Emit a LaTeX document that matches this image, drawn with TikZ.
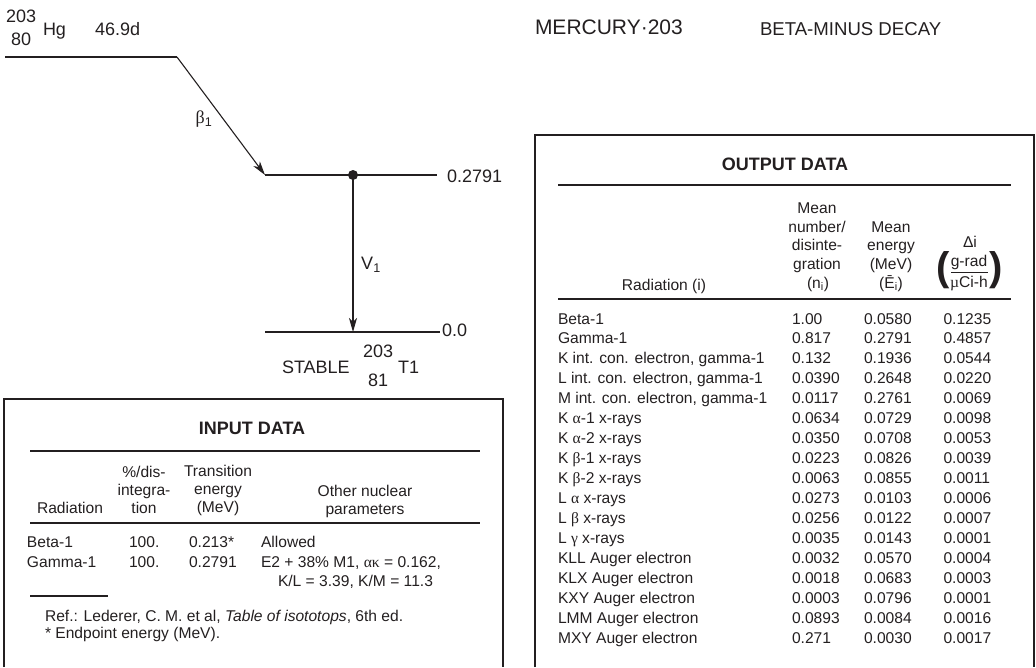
\documentclass[tikz,border=0pt]{standalone}
\usepackage{fontspec}
\setmainfont{Liberation Sans}
\newfontfamily\grk{Liberation Serif}
\usetikzlibrary{arrows.meta}
\definecolor{ink}{RGB}{35,31,32}
\newcommand\fsT{\fontsize{15.6}{18.7}\selectfont}
\newcommand\fsL{\fontsize{18}{20}\selectfont}
\begin{document}
\begin{tikzpicture}[x=1pt,y=-1pt,
  txt/.style={inner sep=0pt,outer sep=0pt,text=ink,font=\fsT},
  lbl/.style={txt,font=\fsL},
  ttl/.style={txt,font=\fsL\bfseries},
  level/.style={draw=ink,line width=1.2pt},
  trans/.style={draw=ink,line width=1.1pt,-{Stealth[length=14pt,width=8pt,inset=4pt]}},
  frame/.style={draw=ink,line width=1.4pt},
  rule/.style={draw=ink,line width=1.3pt},
  hd/.style={txt,anchor=base},
  lw/.style={txt,anchor=base west}]
\useasboundingbox (0,0) rectangle (1036,667);

% ---------------- decay scheme ----------------
\coordinate (p0) at (5,57);
\coordinate (p1) at (177,57);
\coordinate (m0) at (265,175);
\coordinate (m1) at (437,175);
\coordinate (mg) at (353,175);
\coordinate (g0) at (265,332);
\coordinate (g1) at (440,332);
\coordinate (gg) at (353,332);
\draw[level] (p0) -- (p1);
\draw[trans] (p1) -- (m0);
\draw[level] (m0) -- (m1);
\draw[level] (g0) -- (g1);
\draw[trans] (mg) -- (gg);
\fill[ink] (mg) circle (5);

\node[lbl,anchor=base west] (hgA) at (6,22) {203};
\node[lbl,anchor=base west] (hgZ) at (11,45) {80};
\node[lbl,anchor=base west] (hg) at (43,35) {Hg};
\node[lbl,anchor=base west] (hl) at (95,35) {46.9d};
\node[lbl] (b1) at (204,119) {{\grk β}\textsubscript{1}};
\node[lbl] (v1) at (371,265) {V\textsubscript{1}};
\node[lbl,anchor=base west] (e1) at (447,182) {0.2791};
\node[lbl,anchor=base west] (e0) at (442,336) {0.0};
\node[lbl,anchor=base west] (st) at (282,373) {STABLE};
\node[lbl,anchor=base west] (tlA) at (363,357) {203};
\node[lbl,anchor=base west] (tlZ) at (368,386) {81};
\node[lbl,anchor=base west] (tl) at (398,373) {T1};

\node[txt,font=\fontsize{21}{23}\selectfont,anchor=base west] (mt) at (535,34) {MERCURY·203};
\node[txt,font=\fontsize{18.6}{20}\selectfont,anchor=base west] (bt) at (760,35) {BETA-MINUS DECAY};

% ---------------- input data ----------------
\draw[frame] (4,667) -- (4,399) -- (503,399) -- (503,667);
\node[ttl] (inT) at (252,428) {INPUT DATA};
\draw[rule] (30,451) -- (480,451);
\draw[rule] (30,523) -- (480,523);
\node[hd] (ih1) at (70,513) {Radiation};
\node[hd] (ih2a) at (144,477) {\%/dis-};
\node[hd] (ih2b) at (144,495) {integra-};
\node[hd] (ih2c) at (144,513) {tion};
\node[hd] (ih3a) at (218,476) {Transition};
\node[hd] (ih3b) at (218,494) {energy};
\node[hd] (ih3c) at (218,512) {(MeV)};
\node[hd] (ih4a) at (365,496) {Other nuclear};
\node[hd] (ih4b) at (365,514) {parameters};
\node[lw] (ir1a) at (27,547) {Beta-1};
\node[lw] (ir1b) at (129,547) {100.};
\node[lw] (ir1c) at (189,547) {0.213*};
\node[lw] (ir1d) at (261,547) {Allowed};
\node[lw] (ir2a) at (27,567) {Gamma-1};
\node[lw] (ir2b) at (129,567) {100.};
\node[lw] (ir2c) at (189,567) {0.2791};
\node[lw] (ir2d) at (261,567) {E2 + 38\% M1, {\grk ακ} = 0.162,};
\node[lw] (ir3d) at (278,586) {K/L = 3.39, K/M = 11.3};
\draw[rule] (30,596) -- (108,596);
\node[lw] (ref) at (45,621) {Ref.: Lederer, C. M. et al, \textit{Table of isototops}, 6th ed.};
\node[lw] (fn) at (45,638) {* Endpoint energy (MeV).};

% ---------------- output data ----------------
\draw[frame] (535,667) -- (535,135) -- (1034,135) -- (1034,667);
\node[ttl] (outT) at (785,164) {OUTPUT DATA};
\draw[rule] (558,185) -- (1011,185);
\draw[rule] (558,299) -- (1011,299);
\node[hd] (oh1) at (664,290) {Radiation (i)};
\node[hd] (oh2a) at (817,213) {Mean};
\node[hd] (oh2b) at (817,232) {number/};
\node[hd] (oh2c) at (817,250) {disinte-};
\node[hd] (oh2d) at (817,269) {gration};
\node[hd] (oh2e) at (818,288) {(n\textsubscript{i})};
\node[hd] (oh3a) at (891,232) {Mean};
\node[hd] (oh3b) at (891,250) {energy};
\node[hd] (oh3c) at (891,269) {(MeV)};
\node[hd] (oh3d) at (891,288) {(\=E\textsubscript{i})};
\node[hd] (oh4a) at (970,247) {Δi};
\node[hd] (oh4b) at (969,266) {g-rad};
\node[hd] (oh4c) at (969,287) {{\grk µ}Ci-h};
\draw[draw=ink,line width=1pt] (951,272) -- (988,272);
\node[txt,font=\fontsize{40}{40}\selectfont\bfseries] (lp) at (943,270) {(};
\node[txt,font=\fontsize{40}{40}\selectfont\bfseries] (rp) at (996,270) {)};

\foreach \na/\nb/\nc/\nd [count=\k] in {
  Beta-1/1.00/0.0580/0.1235,
  Gamma-1/0.817/0.2791/0.4857,
  {K int. con. electron, gamma-1}/0.132/0.1936/0.0544,
  {L int. con. electron, gamma-1}/0.0390/0.2648/0.0220,
  {M int. con. electron, gamma-1}/0.0117/0.2761/0.0069,
  {K {\grk α}-1 x-rays}/0.0634/0.0729/0.0098,
  {K {\grk α}-2 x-rays}/0.0350/0.0708/0.0053,
  {K {\grk β}-1 x-rays}/0.0223/0.0826/0.0039,
  {K {\grk β}-2 x-rays}/0.0063/0.0855/0.0011,
  {L {\grk α} x-rays}/0.0273/0.0103/0.0006,
  {L {\grk β} x-rays}/0.0256/0.0122/0.0007,
  {L {\grk γ} x-rays}/0.0035/0.0143/0.0001,
  KLL Auger electron/0.0032/0.0570/0.0004,
  KLX Auger electron/0.0018/0.0683/0.0003,
  KXY Auger electron/0.0003/0.0796/0.0001,
  LMM Auger electron/0.0893/0.0084/0.0016,
  MXY Auger electron/0.271/0.0030/0.0017}
{
  \pgfmathsetmacro\yy{324+19.94*(\k-1)}
  \node[lw] (ra\k) at (558,\yy) {\na};
  \node[lw] (rb\k) at (792,\yy) {\nb};
  \node[lw] (rc\k) at (864,\yy) {\nc};
  \node[lw] (rd\k) at (943.5,\yy) {\nd};
}
\end{tikzpicture}
\end{document}
